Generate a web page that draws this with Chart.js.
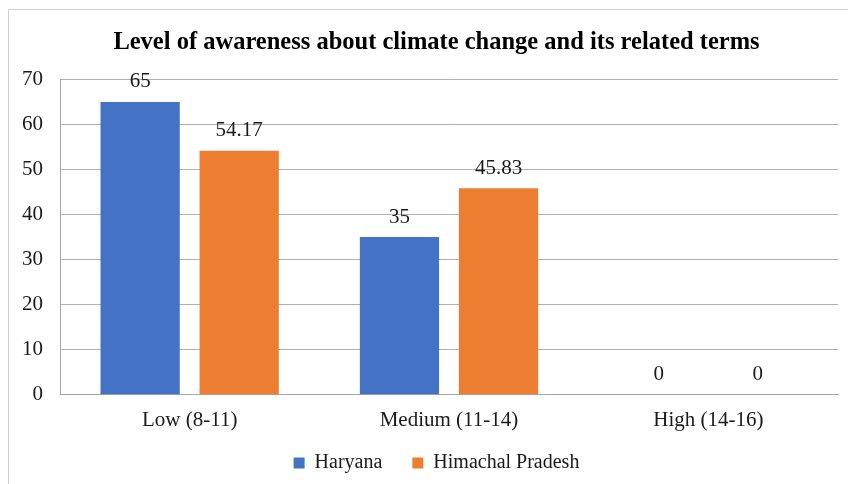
<!DOCTYPE html>
<html>
<head>
<meta charset="utf-8">
<script src="https://cdn.jsdelivr.net/npm/chart.js@4.4.1/dist/chart.umd.min.js"></script>
<style>
  html, body { margin: 0; padding: 0; background: #fff; overflow: hidden; }
  #box {
    position: absolute; left: 8px; top: 9px;
    width: 856px; height: 479px;
    border-left: 1px solid #d0d0d0; border-top: 1px solid #d0d0d0;
  }
</style>
</head>
<body>
<div id="box"><canvas id="myChart" width="855" height="473"></canvas></div>
<script>
'use strict';
// ---------- Data ------------- //
let categories = ['Low (8-11)', 'Medium (11-14)', 'High (14-16)'];
let haryana = [65, 35, 0];
let himachal = [54.17, 45.83, 0];
let yTicks = [0, 10, 20, 30, 40, 50, 60, 70];

let serif = '"Liberation Serif", "Times New Roman", serif';

// draws the value over each bar
let valueLabels = {
  id: 'valueLabels',
  afterDatasetsDraw(chart){
    let ctx = chart.ctx;
    ctx.save();
    ctx.font = '21px ' + serif;
    ctx.fillStyle = '#1a1a1a';
    ctx.textAlign = 'center';
    ctx.textBaseline = 'middle';
    chart.data.datasets.forEach((ds, i) => {
      chart.getDatasetMeta(i).data.forEach((bar, j) => {
        ctx.fillText(String(ds.data[j]), bar.x, bar.y - 20);
      });
    });
    ctx.restore();
  }
};

let ctx = document.getElementById('myChart').getContext('2d');
let myChart = new Chart(ctx, {
  type: 'bar',
  data: {
    labels: categories,
    datasets: [{
      label: 'Haryana',
      data: haryana,
      backgroundColor: '#4472C4'
    },
    {
      label: 'Himachal Pradesh',
      data: himachal,
      backgroundColor: '#ED7D31'
    }]
  },
  options: {
    responsive: false,
    animation: false,
    categoryPercentage: 0.764,
    barPercentage: 0.8,
    layout: { padding: { left: 0, right: 0, top: 0, bottom: 0 } },
    plugins: {
      title: {
        display: true,
        text: 'Level of awareness about climate change and its related terms',
        color: '#000',
        font: { family: serif, size: 24.5, weight: 'bold' },
        padding: { top: 18, bottom: 22 }
      },
      legend: {
        position: 'bottom',
        labels: {
          color: '#1a1a1a',
          font: { family: serif, size: 20 },
          boxWidth: 11,
          boxHeight: 11,
          padding: 15,
          generateLabels(chart){
            let items = Chart.defaults.plugins.legend.labels.generateLabels(chart);
            // wider gap between legend entries
            items.forEach((it, i) => { if (i < items.length - 1) it.text = it.text + '   '; });
            return items;
          }
        }
      },
      tooltip: { enabled: false }
    },
    scales: {
      x: {
        grid: { display: false },
        border: { color: '#a6a6a6' },
        ticks: { color: '#1a1a1a', font: { family: serif, size: 21 }, padding: 5 }
      },
      y: {
        min: 0,
        max: 70,
        afterBuildTicks(axis){ axis.ticks = yTicks.map(v => ({ value: v })); },
        afterFit(axis){ axis.width = 51; },
        grid: { color: '#b0b0b0', drawTicks: false },
        border: { color: '#a6a6a6' },
        ticks: { color: '#1a1a1a', font: { family: serif, size: 21 }, padding: 17 }
      },
      // empty right margin so the title stays centred on the whole box
      yRight: {
        position: 'right',
        min: 0,
        max: 70,
        afterFit(axis){ axis.width = 26; },
        grid: { display: false },
        border: { display: false },
        ticks: { display: false }
      }
    }
  },
  plugins: [valueLabels]
});
</script>
</body>
</html>
